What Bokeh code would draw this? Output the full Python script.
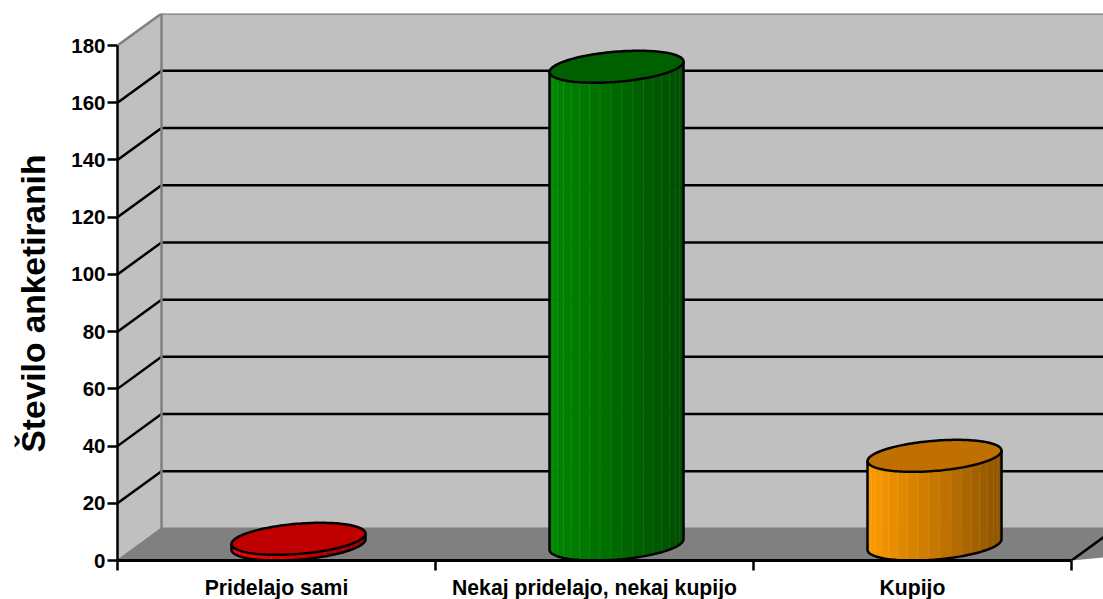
import numpy as np
from bokeh.plotting import figure
from bokeh.models import Range1d, FixedTicker, Title
from bokeh.embed import file_html
from bokeh.resources import INLINE

# data
categories = ["Pridelajo sami", "Nekaj pridelajo, nekaj kupijo", "Kupijo"]
values = [2, 167, 31]
y_ticks = [0, 20, 40, 60, 80, 100, 120, 140, 160, 180]
y_title = "Število anketiranih"

# style
FONT = "Liberation Sans"
left_colors = [(255, 0, 0), (0, 134, 0), (255, 155, 0)]
right_colors = [(150, 0, 0), (0, 78, 0), (140, 84, 0)]
top_colors = ["#C00000", "#006000", "#C07000"]
WALL, FLOOR, EDGE = "#C0C0C0", "#808080", "#808080"

# oblique projection depth, in data units
DX, DY = 0.1384, 11.18
X_MAX, Y_MAX = 3.1006, 191.2
n_cat = len(categories)
v_top = y_ticks[-1]

p = figure(width=1103, height=599, output_backend="svg", toolbar_location=None,
           x_range=Range1d(0, X_MAX), y_range=Range1d(0, Y_MAX),
           min_border_left=117, min_border_right=0, min_border_top=13, min_border_bottom=39,
           background_fill_color="white", border_fill_color="white",
           outline_line_color=None)
p.grid.visible = False

# walls and floor
far = X_MAX + 1
p.patch([0, DX, DX, 0], [0, DY, v_top + DY, v_top], fill_color=WALL, line_color=None)
p.patch([DX, far, far, DX], [DY, DY, v_top + DY, v_top + DY], fill_color=WALL, line_color=None)
p.patch([0, DX, far, n_cat], [0, DY, DY, 0], fill_color=FLOOR, line_color=None)

# gridlines
for v in y_ticks[1:-1]:
    p.line([0, DX, far], [v, v + DY, v + DY], line_color="black", line_width=2.5)

# wall edges
p.line([0, DX, far], [v_top, v_top + DY, v_top + DY], line_color=EDGE, line_width=2.5)
p.line([DX, DX], [DY, v_top + DY], line_color=EDGE, line_width=2.5)
p.line([0, DX, far], [0, DY, DY], line_color=EDGE, line_width=2)
p.line([n_cat, n_cat + DX], [0, DY], line_color="black", line_width=2.5)

# cylinders
HALF_W = 0.2107
SHEAR = DX / 2
A = float(np.sqrt(HALF_W ** 2 - SHEAR ** 2))
T0 = float(np.arctan2(SHEAR, A))
N_STRIPS = 19


def ring(cx, cy, t):
    return cx + A * np.cos(t) + SHEAR * np.sin(t), cy + DY / 2 * np.sin(t)


for i, v in enumerate(values):
    cx = i + 0.5 + DX / 2
    base = DY / 2
    edges = T0 + np.pi + np.linspace(0, np.pi, N_STRIPS + 1)
    xs, ys, fills, seams = [], [], [], []
    for j in range(N_STRIPS):
        t = np.linspace(edges[j], edges[j + 1], 5)
        xb, yb = ring(cx, base, t)
        xt, yt = ring(cx, base + v, t)
        xs.append(np.r_[xb, xt[::-1]].tolist())
        ys.append(np.r_[yb, yt[::-1]].tolist())
        mid = (xb.mean() - (cx - HALF_W)) / (2 * HALF_W)
        col = [int(a + (b - a) * mid) for a, b in zip(left_colors[i], right_colors[i])]
        fills.append("#%02x%02x%02x" % tuple(col))
        seams.append("#%02x%02x%02x" % tuple(min(255, c + 18) for c in col))
    p.patches(xs, ys, fill_color=fills, line_color=seams, line_width=0.6)

    # outline of the front
    t = np.linspace(T0 + np.pi, T0 + 2 * np.pi, 80)
    xb, yb = ring(cx, base, t)
    xo = np.r_[ring(cx, base + v, t[:1])[0], xb, ring(cx, base + v, t[-1:])[0]]
    yo = np.r_[ring(cx, base + v, t[:1])[1], yb, ring(cx, base + v, t[-1:])[1]]
    p.line(xo, yo, line_color="black", line_width=2.5)

    # top face
    t = np.linspace(0, 2 * np.pi, 160)
    xt, yt = ring(cx, base + v, t)
    p.patch(xt, yt, fill_color=top_colors[i], line_color="black", line_width=2.5)

# axes
ax = p.yaxis[0]
ax.bounds = (0, v_top)
ax.ticker = FixedTicker(ticks=y_ticks)
ax.axis_line_color = "black"
ax.axis_line_width = 2.5
ax.major_tick_line_color = "black"
ax.major_tick_line_width = 2.5
ax.major_tick_in = 0
ax.major_tick_out = 10
ax.minor_tick_line_color = None
ax.major_label_standoff = 2
ax.major_label_text_font = FONT
ax.major_label_text_font_style = "bold"
ax.major_label_text_font_size = "20.5px"
ax.major_label_text_color = "black"

p.add_layout(Title(text=y_title, align="left", vertical_align="top", offset=108, standoff=29,
                   text_font=FONT, text_font_style="bold", text_font_size="33.5px",
                   text_color="black"), "left")

bx = p.xaxis[0]
bx.bounds = (0, n_cat)
centers = [i + 0.5 for i in range(n_cat)]
bx.ticker = FixedTicker(ticks=centers, minor_ticks=list(range(n_cat + 1)))
bx.major_label_overrides = {c: s for c, s in zip(centers, categories)}
bx.axis_line_color = "black"
bx.axis_line_width = 3
bx.major_tick_line_color = None
bx.major_tick_in = 0
bx.major_tick_out = 0
bx.minor_tick_line_color = "black"
bx.minor_tick_line_width = 2.5
bx.minor_tick_in = 0
bx.minor_tick_out = 10
bx.major_label_standoff = 5
bx.major_label_text_font = FONT
bx.major_label_text_font_style = "bold"
bx.major_label_text_font_size = "21.2px"
bx.major_label_text_color = "black"
p.frame_width = 986
p.frame_height = 547

open("out.html", "w").write(file_html(p, INLINE))
